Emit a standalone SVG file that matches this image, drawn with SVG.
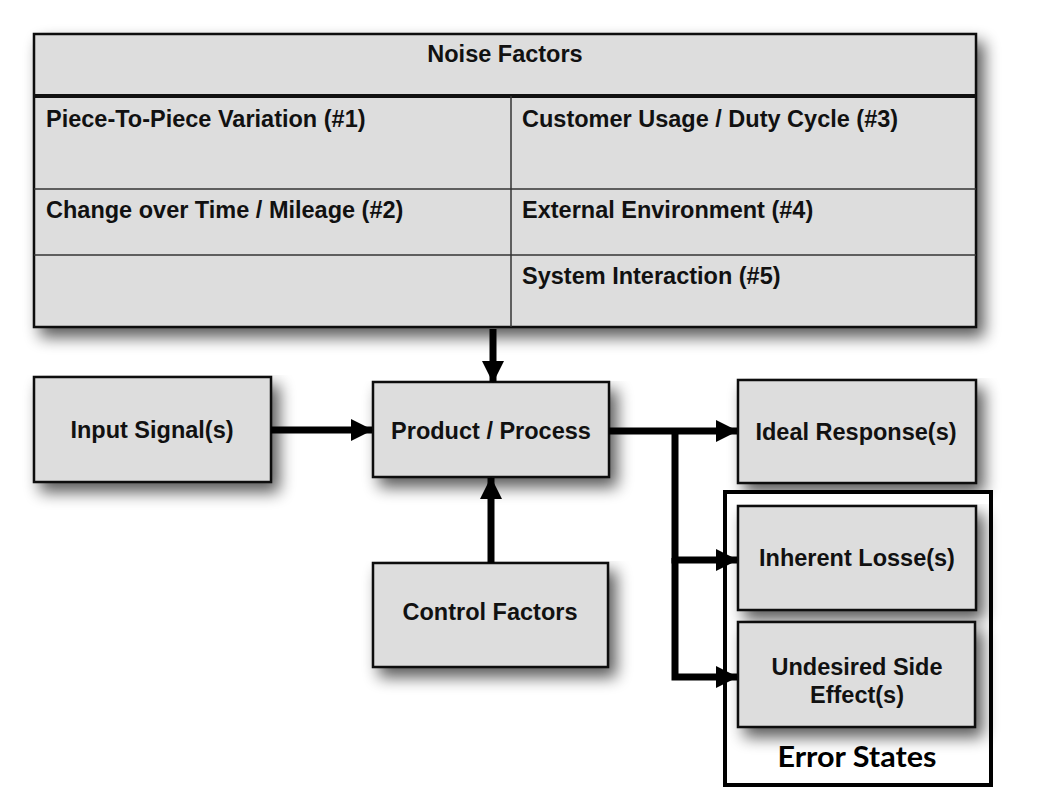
<svg xmlns="http://www.w3.org/2000/svg" width="1044" height="797" viewBox="0 0 1044 797">
  <style>
    .box { fill: #dddddd; stroke: #111111; stroke-width: 2.5; }
    .cell { fill: none; stroke: #333333; stroke-width: 1.5; }
    .t { font-family: "Liberation Sans", Arial, sans-serif; font-weight: bold; font-size: 23.5px; fill: #111111; }
    .c { text-anchor: middle; }
    .conn { fill: none; stroke: #000000; stroke-width: 7; stroke-linejoin: miter; }
    .es { font-family: Lato, "Open Sans", sans-serif; font-weight: bold; font-size: 29px; fill: #000000; text-anchor: middle; }
  </style>
  <defs>
    <filter id="sh" x="-10%" y="-10%" width="130%" height="140%">
      <feGaussianBlur in="SourceAlpha" stdDeviation="8"/>
      <feOffset dx="7" dy="9" result="b"/>
      <feComponentTransfer><feFuncA type="linear" slope="0.65"/></feComponentTransfer>
      <feMerge><feMergeNode/><feMergeNode in="SourceGraphic"/></feMerge>
    </filter>
    <marker id="ah" markerUnits="userSpaceOnUse" markerWidth="22" markerHeight="22" refX="21" refY="11" orient="auto">
      <path d="M0,0 L22,11 L0,22 Z" fill="#000000"/>
    </marker>
  </defs>
  <rect width="1044" height="797" fill="#ffffff"/>

  <g id="noise-factors">
    <rect class="box" x="34" y="34" width="942" height="293" stroke-width="3" filter="url(#sh)"/>
    <line x1="34" y1="96" x2="976" y2="96" stroke="#111111" stroke-width="4"/>
    <line class="cell" x1="511" y1="96" x2="511" y2="327"/>
    <line class="cell" x1="34" y1="189" x2="976" y2="189"/>
    <line class="cell" x1="34" y1="255" x2="976" y2="255"/>
    <text class="t c" x="505" y="62">Noise Factors</text>
    <text class="t" x="46" y="127">Piece-To-Piece Variation (#1)</text>
    <text class="t" x="522" y="127">Customer Usage / Duty Cycle (#3)</text>
    <text class="t" x="46" y="218">Change over Time / Mileage (#2)</text>
    <text class="t" x="522" y="218">External Environment (#4)</text>
    <text class="t" x="522" y="284">System Interaction (#5)</text>
  </g>

  <g id="input-signals">
    <rect class="box" x="34" y="377" width="237" height="105" filter="url(#sh)"/>
    <text class="t c" x="152" y="438">Input Signal(s)</text>
  </g>

  <g id="product-process">
    <rect class="box" x="373" y="382" width="236" height="95" filter="url(#sh)"/>
    <text class="t c" x="491" y="439">Product / Process</text>
  </g>

  <g id="control-factors">
    <rect class="box" x="373" y="563" width="235" height="104" filter="url(#sh)"/>
    <text class="t c" x="490" y="620">Control Factors</text>
  </g>

  <g id="ideal-response">
    <rect class="box" x="738" y="380" width="238" height="103" filter="url(#sh)"/>
    <text class="t c" x="856" y="440">Ideal Response(s)</text>
  </g>

  <g id="error-states">
    <rect x="725" y="492" width="266" height="293" fill="#ffffff" stroke="#000000" stroke-width="4"/>
    <text class="es" x="857" y="767" textLength="159" lengthAdjust="spacingAndGlyphs">Error States</text>
  </g>

  <g id="inherent-losses">
    <rect class="box" x="738" y="506" width="238" height="104" filter="url(#sh)"/>
    <text class="t c" x="857" y="566">Inherent Losse(s)</text>
  </g>

  <g id="undesired-side-effects">
    <rect class="box" x="738" y="622" width="237" height="105" filter="url(#sh)"/>
    <text class="t c" x="857" y="675">Undesired Side</text>
    <text class="t c" x="857" y="703">Effect(s)</text>
  </g>

  <g id="connectors">
    <path class="conn" d="M493,329 L493,382" marker-end="url(#ah)"/>
    <path class="conn" d="M271,430 L372,430" marker-end="url(#ah)"/>
    <path class="conn" d="M491,563 L491,478" marker-end="url(#ah)"/>
    <path class="conn" d="M609,431 L737,431" marker-end="url(#ah)"/>
    <path class="conn" d="M675,428 L675,560 L737,560" marker-end="url(#ah)"/>
    <path class="conn" d="M675,558 L675,677 L737,677" marker-end="url(#ah)"/>
  </g>
</svg>
